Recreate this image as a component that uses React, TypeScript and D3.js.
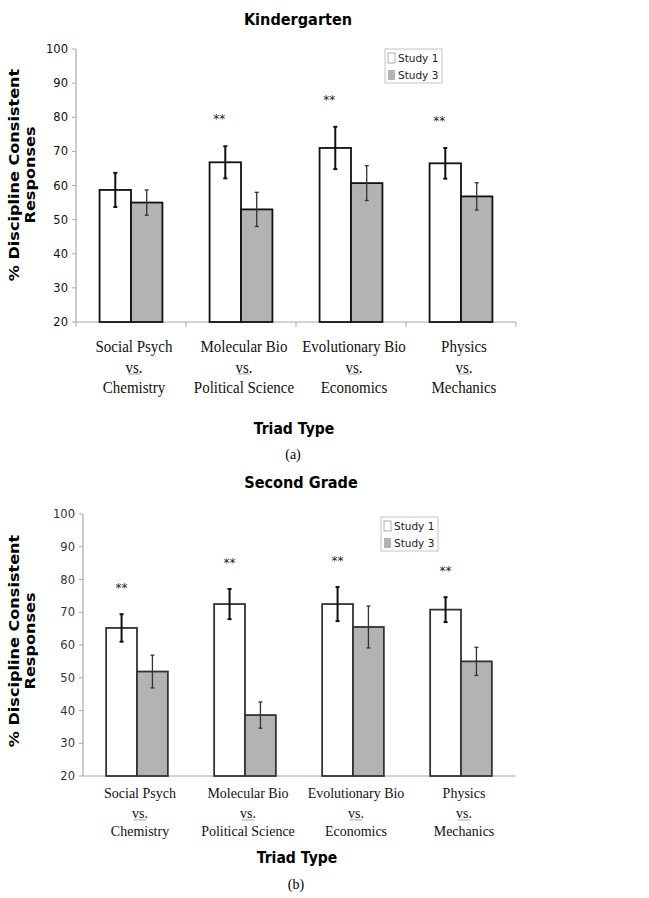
import React from 'react';
import * as d3 from 'd3';

// categories (three-line labels under each group)
const catTop = ['Social Psych', 'Molecular Bio', 'Evolutionary Bio', 'Physics'];
const catBottom = ['Chemistry', 'Political Science', 'Economics', 'Mechanics'];
const seriesNames = ['Study 1', 'Study 3'];
const yTicks = [20, 30, 40, 50, 60, 70, 80, 90, 100];

// Kindergarten
const kinderStudy1 = [58.7, 66.8, 71.0, 66.5];
const kinderStudy1Err = [5.0, 4.7, 6.2, 4.5];
const kinderStudy3 = [55.0, 53.0, 60.7, 56.8];
const kinderStudy3Err = [3.7, 5.0, 5.1, 4.0];
const kinderSig = [false, true, true, true];

// Second grade
const secondStudy1 = [65.2, 72.5, 72.5, 70.8];
const secondStudy1Err = [4.2, 4.6, 5.2, 3.8];
const secondStudy3 = [51.9, 38.6, 65.5, 55.0];
const secondStudy3Err = [5.0, 4.0, 6.4, 4.3];
const secondSig = [true, true, true, true];

const SANS = 'DejaVu Sans, Verdana, sans-serif';
const SERIF = 'Liberation Serif, Times New Roman, serif';
const GRAY = '#b3b3b3';

type Cfg = {
  title: string;
  tag: string;
  s1: number[]; e1: number[]; s3: number[]; e3: number[]; sig: boolean[];
  x0: number; x1: number; yTop: number; yBot: number;
  titleY: number; ylabY: number; labY: number[]; labFont: number; labScale: number;
  triadY: number; tagY: number;
  legX: number; legY: number; starDx: number; xTicks: boolean; tickColor: string; barStroke: string;
};

const Chart = ({ c }: { c: Cfg }) => {
  const x = d3.scaleBand<string>().domain(catTop).range([c.x0, c.x1]).padding(0);
  const inner = d3.scaleBand<string>().domain(seriesNames).range([0, x.bandwidth()]).paddingInner(0).paddingOuter(0.75);
  const y = d3.scaleLinear().domain([20, 100]).range([c.yBot, c.yTop]);
  const series = [
    { name: 'Study 1', vals: c.s1, errs: c.e1, fill: '#fff', ew: 2, ec: '#111' },
    { name: 'Study 3', vals: c.s3, errs: c.e3, fill: GRAY, ew: 1.3, ec: '#333' },
  ];
  const midX = (c.x0 + c.x1) / 2;
  const bounds = d3.range(catTop.length + 1).map(i => c.x0 + i * x.step());
  const squiggle = (cx: number, cy: number) => {
    const pts = d3.range(0, 13).map(i => [cx - 6 + i, cy + (i % 2 ? 1 : -0.2)] as [number, number]);
    return d3.line()(pts) || '';
  };
  return (
    <g>
      <text x={midX + 2} y={c.titleY} transform={`translate(0,${c.titleY}) scale(1,1.15) translate(0,${-c.titleY})`}
        textAnchor="middle" dominantBaseline="central" fontFamily={SANS} fontWeight="bold" fontSize={14.5}>{c.title}</text>

      {/* y axis */}
      <line x1={c.x0} x2={c.x0} y1={c.yTop} y2={c.yBot} stroke="#a8a8a8" strokeWidth={1.2} />
      {yTicks.map(t => (
        <g key={t}>
          <line x1={c.x0 - 4} x2={c.x0} y1={y(t)} y2={y(t)} stroke="#a8a8a8" strokeWidth={1} />
          <text x={c.x0 - 8} y={y(t)} textAnchor="end" dominantBaseline="central" fontFamily={SANS} fontSize={11.5} fill={c.tickColor}>{t}</text>
        </g>
      ))}
      {/* x axis */}
      <line x1={c.x0} x2={c.x1} y1={c.yBot} y2={c.yBot} stroke="#a8a8a8" strokeWidth={1.2} />
      {c.xTicks && bounds.map((b, i) => (
        <line key={i} x1={b} x2={b} y1={c.yBot} y2={c.yBot + 5} stroke="#a8a8a8" strokeWidth={1} />
      ))}

      {/* bars */}
      {series.map(s => catTop.map((cat, i) => {
        const bx = (x(cat) as number) + (inner(s.name) as number);
        const bw = inner.bandwidth();
        const cx = bx + bw / 2;
        return (
          <g key={s.name + cat}>
            <rect x={bx} y={y(s.vals[i])} width={bw} height={c.yBot - y(s.vals[i])} fill={s.fill} stroke={c.barStroke} strokeWidth={1.8} />
            <line x1={cx} x2={cx} y1={y(s.vals[i] + s.errs[i])} y2={y(s.vals[i] - s.errs[i])} stroke={s.ec} strokeWidth={s.ew} />
            <line x1={cx - 2} x2={cx + 2} y1={y(s.vals[i] + s.errs[i])} y2={y(s.vals[i] + s.errs[i])} stroke={s.ec} strokeWidth={s.ew} />
            <line x1={cx - 2} x2={cx + 2} y1={y(s.vals[i] - s.errs[i])} y2={y(s.vals[i] - s.errs[i])} stroke={s.ec} strokeWidth={s.ew} />
          </g>
        );
      }))}

      {/* significance */}
      {catTop.map((cat, i) => c.sig[i] ? (
        <text key={cat} x={(x(cat) as number) + (inner('Study 1') as number) + inner.bandwidth() / 2 + c.starDx}
          y={y(c.s1[i] + c.e1[i] + 8)} textAnchor="middle" dominantBaseline="central" fontFamily={SANS} fontSize={12} fill="#222">**</text>
      ) : null)}

      {/* category labels */}
      {catTop.map((cat, i) => {
        const cx = (x(cat) as number) + x.bandwidth() / 2 + 3;
        const lines = [cat, 'vs.', catBottom[i]];
        return (
          <g key={'l' + cat}>
            {lines.map((t, k) => {
              const ly = c.yBot + c.labY[k];
              return (
                <text key={k} x={cx} y={ly} transform={`translate(0,${ly}) scale(1,${c.labScale}) translate(0,${-ly})`}
                  textAnchor="middle" dominantBaseline="central" fontFamily={SERIF} fontSize={c.labFont} fill="#111">{t}</text>
              );
            })}
            <path d={squiggle(cx, c.yBot + c.labY[1] + 6.5)} fill="none" stroke="#8a8fa8" strokeWidth={0.8} />
          </g>
        );
      })}

      {/* axis titles */}
      <text x={midX - 2} y={c.triadY} transform={`translate(0,${c.triadY}) scale(1,1.15) translate(0,${-c.triadY})`}
        textAnchor="middle" dominantBaseline="central" fontFamily={SANS} fontWeight="bold" fontSize={14}>Triad Type</text>
      <text x={midX - 3} y={c.tagY} textAnchor="middle" dominantBaseline="central" fontFamily={SERIF} fontSize={14}>{c.tag}</text>
      <g transform={`translate(0,${c.ylabY}) scale(1,1.15)`}>
        <text transform="translate(14,0) rotate(-90)" textAnchor="middle" dominantBaseline="central" fontFamily={SANS} fontWeight="bold" fontSize={14}>% Discipline Consistent</text>
        <text transform="translate(30,0) rotate(-90)" textAnchor="middle" dominantBaseline="central" fontFamily={SANS} fontWeight="bold" fontSize={14}>Responses</text>
      </g>

      {/* legend */}
      <g transform={`translate(${c.legX},${c.legY})`}>
        <rect x={0} y={0} width={57} height={34} fill="#fff" stroke="#c4c4c4" strokeWidth={1} />
        {seriesNames.map((n, k) => (
          <g key={n} transform={`translate(0,${9 + k * 17})`}>
            <rect x={3} y={-5} width={7} height={10} fill={k === 0 ? '#fff' : GRAY} stroke={k === 0 ? '#999' : 'none'} strokeWidth={0.8} />
            <text x={13} y={0} dominantBaseline="central" fontFamily={SANS} fontSize={10.5} fill="#222">{n}</text>
          </g>
        ))}
      </g>
    </g>
  );
};

const top: Cfg = {
  title: 'Kindergarten', tag: '(a)',
  s1: kinderStudy1, e1: kinderStudy1Err, s3: kinderStudy3, e3: kinderStudy3Err, sig: kinderSig,
  x0: 76, x1: 516, yTop: 49, yBot: 322,
  titleY: 20, ylabY: 175, labY: [24, 45, 65], labFont: 15, labScale: 1.1, triadY: 429, tagY: 454,
  legX: 385, legY: 49, starDx: -6, xTicks: true, tickColor: '#111', barStroke: '#111',
};

const bottom: Cfg = {
  title: 'Second Grade', tag: '(b)',
  s1: secondStudy1, e1: secondStudy1Err, s3: secondStudy3, e3: secondStudy3Err, sig: secondSig,
  x0: 83, x1: 515, yTop: 514, yBot: 776,
  titleY: 483, ylabY: 641, labY: [17, 37, 55], labFont: 14, labScale: 1.1, triadY: 858, tagY: 884,
  legX: 381, legY: 517, starDx: 0, xTicks: false, tickColor: '#333', barStroke: '#333',
};

export default function App() {
  return (
    <svg width={649} height={898} style={{ position: 'absolute', left: 0, top: 0, background: '#fff' }}>
      <rect width={649} height={898} fill="#fff" />
      <Chart c={top} />
      <Chart c={bottom} />
    </svg>
  );
}
